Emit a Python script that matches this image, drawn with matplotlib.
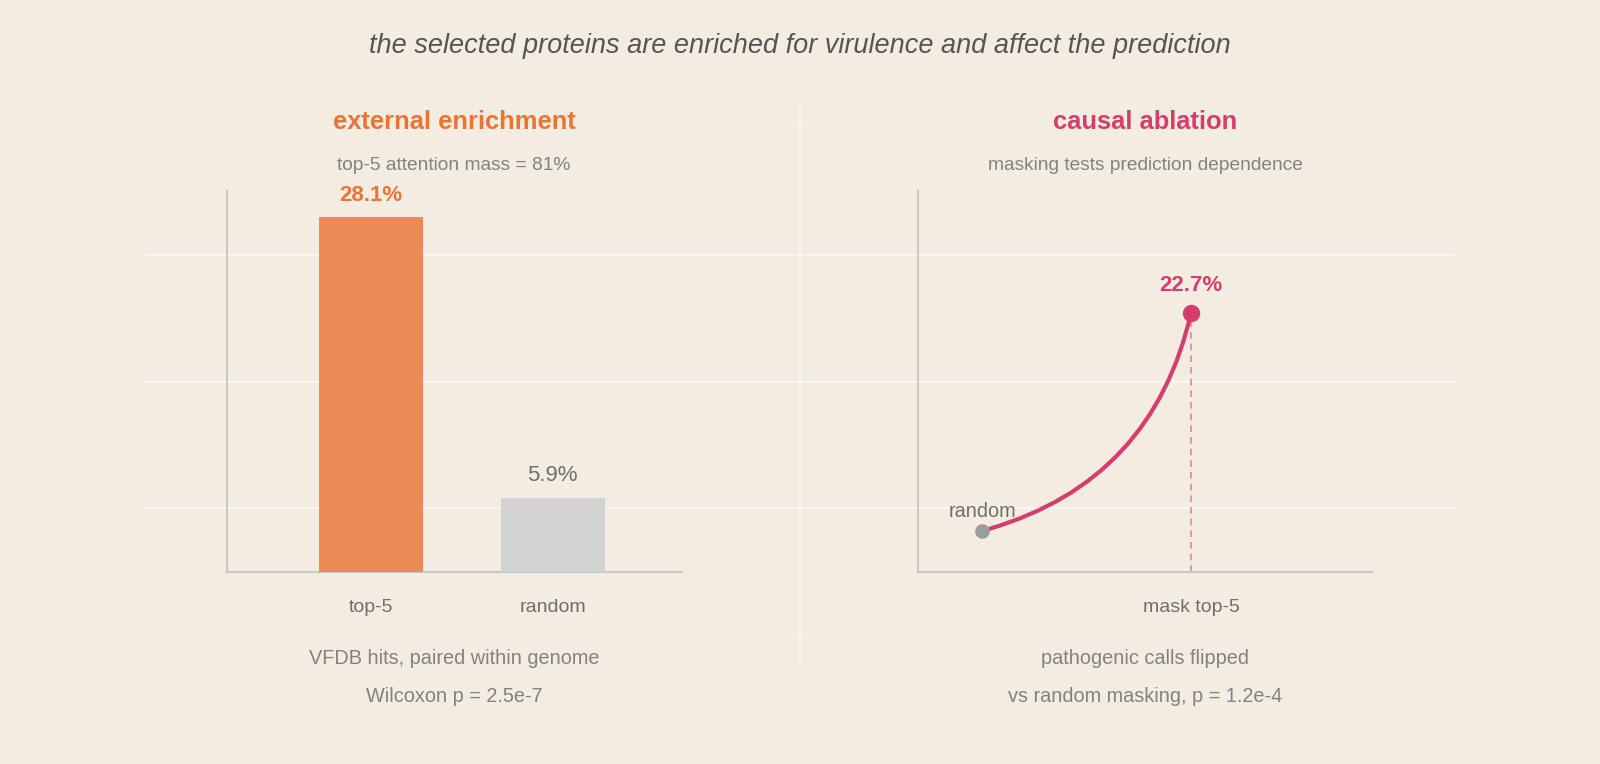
import matplotlib
matplotlib.use("Agg")
import matplotlib.pyplot as plt
from matplotlib.patches import FancyArrowPatch

plt.rcParams["font.family"] = ["Liberation Sans", "DejaVu Sans"]

# data
enrich_labels = ["top-5", "random"]
enrich_values = [28.1, 5.9]
ablation_labels = ["random", "mask top-5"]
ablation_values = [3.6, 22.7]

BG = "#F3ECE0"
ORANGE = "#EC8B56"
ORANGE_TXT = "#EA7436"
PINK = "#D63D6E"
PINK_LIGHT = "#EE7FA0"
GRAY_BAR = "#D2D2D2"
AXIS = "#C8C8C8"
GRID = "#F9F6F1"
TXT = "#828282"
TICK = "#6F6F6F"

W, H = 1600, 764
fig = plt.figure(figsize=(W / 100, H / 100), dpi=100, facecolor=BG)

# background layer in pixel coordinates (grid, divider, texts)
bg = fig.add_axes([0, 0, 1, 1], zorder=0)
bg.set_xlim(0, W)
bg.set_ylim(H, 0)
bg.axis("off")
for y, lw, c in [(127, 0.8, "#F6F2EA"), (255, 1.6, GRID), (382, 1.6, GRID),
                 (508, 1.6, GRID), (636, 0.8, "#F6F2EA")]:
    bg.plot([146, 1454], [y, y], color=c, lw=lw, zorder=0)
bg.plot([800, 800], [100, 663], color=GRID, lw=1.6, zorder=0)

bg.text(800, 46, "the selected proteins are enriched for virulence and affect the prediction",
        ha="center", va="center", fontsize=19.5, style="italic", color="#555555")

def panel_text(cx, title, color, sub, foot1, foot2):
    bg.text(cx, 122, title, ha="center", va="center", fontsize=18.4, fontweight="bold", color=color)
    bg.text(cx, 166, sub, ha="center", va="center", fontsize=13.8, color=TXT)
    bg.text(cx, 658, foot1, ha="center", va="center", fontsize=14.3, color=TXT)
    bg.text(cx, 697, foot2, ha="center", va="center", fontsize=14.3, color=TXT)

panel_text(454, "external enrichment", ORANGE_TXT, "top-5 attention mass = 81%",
           "VFDB hits, paired within genome", "Wilcoxon p = 2.5e-7")
panel_text(1145, "causal ablation", PINK, "masking tests prediction dependence",
           "pathogenic calls flipped", "vs random masking, p = 1.2e-4")

def style_axes(ax):
    ax.set_facecolor("none")
    for s in ["top", "right"]:
        ax.spines[s].set_visible(False)
    for s in ["left", "bottom"]:
        ax.spines[s].set_color(AXIS)
        ax.spines[s].set_linewidth(1.5)
    ax.set_yticks([])
    ax.tick_params(axis="x", length=0, pad=19.5, labelsize=14, labelcolor=TICK)

# left panel: bars
ax1 = fig.add_axes([227 / W, 1 - 572 / H, 455 / W, 381 / H], zorder=2)
style_axes(ax1)
xs = list(range(len(enrich_values)))
ax1.bar(xs, enrich_values, width=0.57, color=[ORANGE, GRAY_BAR], zorder=3)
ax1.set_xticks(xs)
ax1.set_xticklabels(enrich_labels)
ax1.set_xlim(-0.79, 1.71)
ax1.set_ylim(0, 30.2)
ax1.annotate(f"{enrich_values[0]}%", (xs[0], enrich_values[0]), xytext=(0, 16),
             textcoords="offset points", ha="center", va="center",
             fontsize=16, fontweight="bold", color=ORANGE_TXT)
ax1.annotate(f"{enrich_values[1]}%", (xs[1], enrich_values[1]), xytext=(0, 16),
             textcoords="offset points", ha="center", va="center",
             fontsize=16, color=TICK)

# right panel: ablation curve
ax2 = fig.add_axes([918 / W, 1 - 572 / H, 454 / W, 381 / H], zorder=2)
style_axes(ax2)
ax2.set_xlim(-0.306, 1.866)
ax2.set_ylim(0, 33.4)
px = [0, 1]
ax2.plot([px[1], px[1]], [0, ablation_values[1]], color=PINK_LIGHT, lw=1.2,
         ls=(0, (4, 3)), zorder=2)
curve = FancyArrowPatch((px[0], ablation_values[0]), (px[1], ablation_values[1]),
                        connectionstyle="arc3,rad=0.3", arrowstyle="-",
                        color=PINK, lw=3, shrinkA=6, shrinkB=0, zorder=3)
ax2.add_patch(curve)
ax2.plot(px[0], ablation_values[0], "o", ms=9.5, color="#9B9B9B", zorder=4)
ax2.plot(px[1], ablation_values[1], "o", ms=11.5, color=PINK, zorder=4)
ax2.set_xticks([px[1]])
ax2.set_xticklabels([ablation_labels[1]])
ax2.annotate(ablation_labels[0], (px[0], ablation_values[0]), xytext=(0, 14),
             textcoords="offset points", ha="center", va="center",
             fontsize=14.3, color=TICK)
ax2.annotate(f"{ablation_values[1]}%", (px[1], ablation_values[1]), xytext=(0, 20),
             textcoords="offset points", ha="center", va="center",
             fontsize=16, fontweight="bold", color=PINK)

fig.savefig("out.png", dpi=100, facecolor=BG)
